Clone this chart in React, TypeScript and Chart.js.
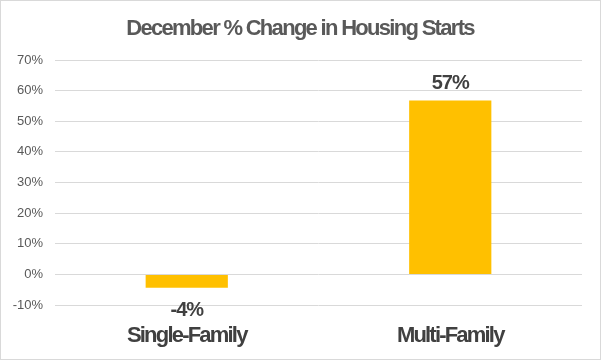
import React, { useEffect, useRef } from "react";
import { Chart, registerables } from "chart.js";

Chart.register(...registerables);

const TITLE = "December % Change in Housing Starts";
const categories = ["Single-Family", "Multi-Family"];
const changes = [-4.4, 56.8];
const yMin = -10;
const yMax = 70;
const yStep = 10;

const textPlugin = {
  id: "customText",
  afterDraw(chart: any) {
    const ctx = chart.ctx;
    const area = chart.chartArea;
    ctx.save();
    // border
    ctx.strokeStyle = "#d9d9d9";
    ctx.lineWidth = 1;
    ctx.strokeRect(0.5, 0.5, chart.width - 1, chart.height - 1);
    // title
    ctx.fillStyle = "#595959";
    ctx.font = "bold 22px 'Liberation Sans', Arial, sans-serif";
    ctx.textAlign = "center";
    ctx.textBaseline = "alphabetic";
    (ctx as any).letterSpacing = "-1.7px";
    ctx.fillText(TITLE, 300, 35);
    // x labels
    const xs = chart.scales.x;
    ctx.fillStyle = "#404040";
    ctx.font = "bold 22px 'Liberation Sans', Arial, sans-serif";
    (ctx as any).letterSpacing = "-1.8px";
    categories.forEach((c, i) => {
      ctx.fillText(c, xs.getPixelForValue(i), 342);
    });
    // data labels
    const meta = chart.getDatasetMeta(0);
    ctx.font = "bold 20px 'Liberation Sans', Arial, sans-serif";
    (ctx as any).letterSpacing = "-1px";
    meta.data.forEach((bar: any, i: number) => {
      const v = changes[i];
      const label = Math.round(v) + "%";
      if (v >= 0) ctx.fillText(label, bar.x, bar.y - 11.5);
      else ctx.fillText(label, bar.x, bar.y + 28);
    });
    ctx.restore();
  },
};

export default function App() {
  const ref = useRef<HTMLCanvasElement>(null);
  useEffect(() => {
    if (!ref.current) return;
    const chart = new Chart(ref.current, {
      type: "bar",
      data: {
        labels: categories,
        datasets: [
          {
            data: changes,
            backgroundColor: "#FFC000",
            borderWidth: 0,
            categoryPercentage: 1,
            barPercentage: 0.312,
          },
        ],
      },
      options: {
        responsive: false,
        animation: false,
        devicePixelRatio: 1,
        layout: { padding: { top: 60, left: 0, right: 19, bottom: 55 } },
        plugins: {
          legend: { display: false },
          title: { display: false },
          tooltip: { enabled: false },
        },
        scales: {
          x: { display: false },
          y: {
            min: yMin,
            max: yMax,
            afterFit: (s: any) => {
              s.width = 55;
            },
            ticks: {
              stepSize: yStep,
              padding: 12,
              color: "#595959",
              font: { size: 13, family: "'Liberation Sans', Arial, sans-serif" },
              callback: (v: any) => v + "%",
            },
            grid: { color: "#d9d9d9", lineWidth: 1, drawTicks: false },
            border: { display: false },
          },
        },
      },
      plugins: [textPlugin],
    });
    return () => chart.destroy();
  }, []);
  return (
    <div style={{ position: "absolute", left: 0, top: 0, width: 601, height: 360, background: "#fff" }}>
      <canvas ref={ref} width={601} height={360} />
    </div>
  );
}
